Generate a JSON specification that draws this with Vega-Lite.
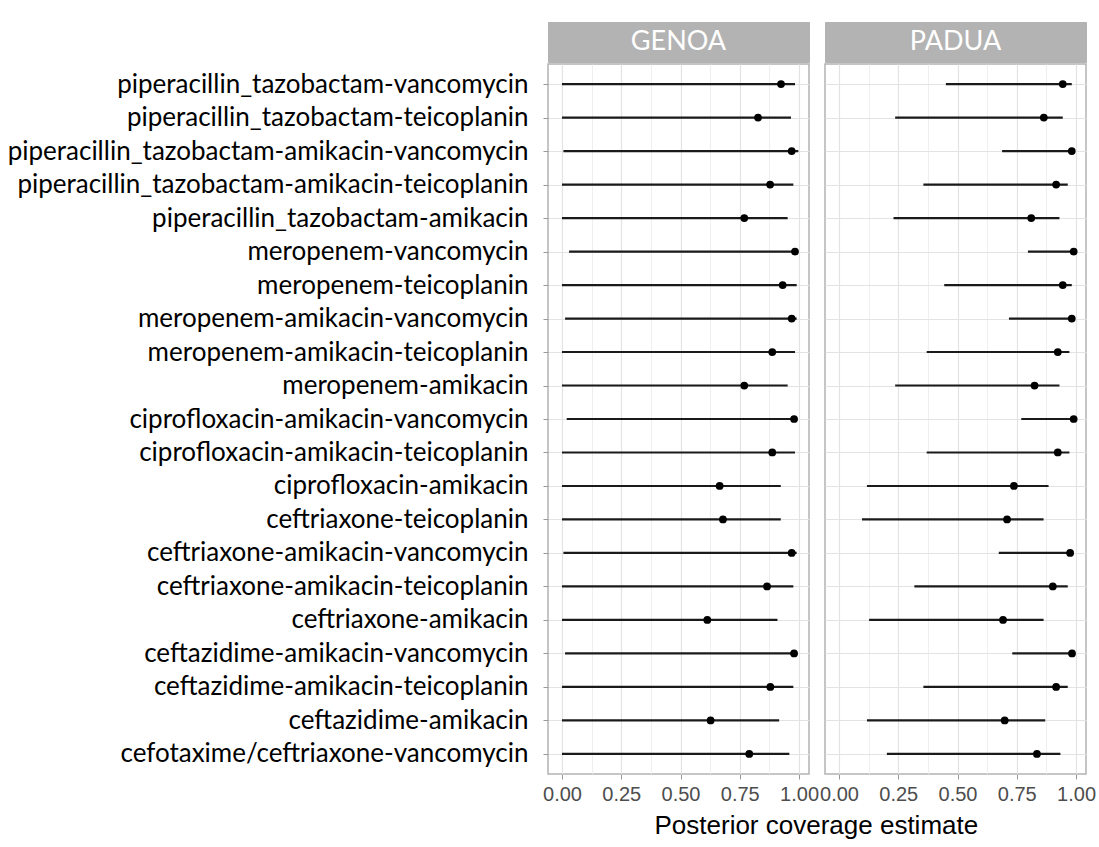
{
  "$schema": "https://vega.github.io/schema/vega-lite/v6.json",
  "background": "white",
  "padding": {"left": 6, "top": 21, "right": 5, "bottom": 5},
  "title": {"text": "Posterior coverage estimate", "orient": "bottom", "anchor": "middle", "font": "Liberation Sans", "fontSize": 26, "fontWeight": "normal", "color": "black", "dx": 265, "offset": 8},
  "datasets": {
    "cov": [
      {"site": "GENOA", "combo": "piperacillin_tazobactam-vancomycin", "lo": 0.0, "est": 0.924, "hi": 0.983},
      {"site": "GENOA", "combo": "piperacillin_tazobactam-teicoplanin", "lo": 0.0, "est": 0.827, "hi": 0.966},
      {"site": "GENOA", "combo": "piperacillin_tazobactam-amikacin-vancomycin", "lo": 0.006, "est": 0.969, "hi": 0.997},
      {"site": "GENOA", "combo": "piperacillin_tazobactam-amikacin-teicoplanin", "lo": 0.0, "est": 0.878, "hi": 0.976},
      {"site": "GENOA", "combo": "piperacillin_tazobactam-amikacin", "lo": 0.0, "est": 0.769, "hi": 0.952},
      {"site": "GENOA", "combo": "meropenem-vancomycin", "lo": 0.03, "est": 0.983, "hi": 0.995},
      {"site": "GENOA", "combo": "meropenem-teicoplanin", "lo": 0.0, "est": 0.931, "hi": 0.99},
      {"site": "GENOA", "combo": "meropenem-amikacin-vancomycin", "lo": 0.013, "est": 0.969, "hi": 0.99},
      {"site": "GENOA", "combo": "meropenem-amikacin-teicoplanin", "lo": 0.0, "est": 0.887, "hi": 0.983},
      {"site": "GENOA", "combo": "meropenem-amikacin", "lo": 0.0, "est": 0.769, "hi": 0.952},
      {"site": "GENOA", "combo": "ciprofloxacin-amikacin-vancomycin", "lo": 0.02, "est": 0.979, "hi": 0.99},
      {"site": "GENOA", "combo": "ciprofloxacin-amikacin-teicoplanin", "lo": 0.0, "est": 0.887, "hi": 0.983},
      {"site": "GENOA", "combo": "ciprofloxacin-amikacin", "lo": 0.0, "est": 0.665, "hi": 0.923},
      {"site": "GENOA", "combo": "ceftriaxone-teicoplanin", "lo": 0.0, "est": 0.679, "hi": 0.923},
      {"site": "GENOA", "combo": "ceftriaxone-amikacin-vancomycin", "lo": 0.006, "est": 0.969, "hi": 0.99},
      {"site": "GENOA", "combo": "ceftriaxone-amikacin-teicoplanin", "lo": 0.0, "est": 0.865, "hi": 0.976},
      {"site": "GENOA", "combo": "ceftriaxone-amikacin", "lo": 0.0, "est": 0.613, "hi": 0.909},
      {"site": "GENOA", "combo": "ceftazidime-amikacin-vancomycin", "lo": 0.013, "est": 0.979, "hi": 0.99},
      {"site": "GENOA", "combo": "ceftazidime-amikacin-teicoplanin", "lo": 0.0, "est": 0.879, "hi": 0.976},
      {"site": "GENOA", "combo": "ceftazidime-amikacin", "lo": 0.0, "est": 0.627, "hi": 0.916},
      {"site": "GENOA", "combo": "cefotaxime/ceftriaxone-vancomycin", "lo": 0.0, "est": 0.79, "hi": 0.959},
      {"site": "PADUA", "combo": "piperacillin_tazobactam-vancomycin", "lo": 0.451, "est": 0.944, "hi": 0.982},
      {"site": "PADUA", "combo": "piperacillin_tazobactam-teicoplanin", "lo": 0.237, "est": 0.864, "hi": 0.944},
      {"site": "PADUA", "combo": "piperacillin_tazobactam-amikacin-vancomycin", "lo": 0.688, "est": 0.982, "hi": 0.99},
      {"site": "PADUA", "combo": "piperacillin_tazobactam-amikacin-teicoplanin", "lo": 0.356, "est": 0.916, "hi": 0.965},
      {"site": "PADUA", "combo": "piperacillin_tazobactam-amikacin", "lo": 0.23, "est": 0.811, "hi": 0.93},
      {"site": "PADUA", "combo": "meropenem-vancomycin", "lo": 0.797, "est": 0.99, "hi": 0.995},
      {"site": "PADUA", "combo": "meropenem-teicoplanin", "lo": 0.444, "est": 0.944, "hi": 0.982},
      {"site": "PADUA", "combo": "meropenem-amikacin-vancomycin", "lo": 0.717, "est": 0.982, "hi": 0.99},
      {"site": "PADUA", "combo": "meropenem-amikacin-teicoplanin", "lo": 0.37, "est": 0.923, "hi": 0.972},
      {"site": "PADUA", "combo": "meropenem-amikacin", "lo": 0.237, "est": 0.825, "hi": 0.93},
      {"site": "PADUA", "combo": "ciprofloxacin-amikacin-vancomycin", "lo": 0.769, "est": 0.99, "hi": 0.995},
      {"site": "PADUA", "combo": "ciprofloxacin-amikacin-teicoplanin", "lo": 0.37, "est": 0.923, "hi": 0.972},
      {"site": "PADUA", "combo": "ciprofloxacin-amikacin", "lo": 0.118, "est": 0.738, "hi": 0.884},
      {"site": "PADUA", "combo": "ceftriaxone-teicoplanin", "lo": 0.097, "est": 0.709, "hi": 0.863},
      {"site": "PADUA", "combo": "ceftriaxone-amikacin-vancomycin", "lo": 0.674, "est": 0.975, "hi": 0.985},
      {"site": "PADUA", "combo": "ceftriaxone-amikacin-teicoplanin", "lo": 0.318, "est": 0.902, "hi": 0.965},
      {"site": "PADUA", "combo": "ceftriaxone-amikacin", "lo": 0.127, "est": 0.692, "hi": 0.863},
      {"site": "PADUA", "combo": "ceftazidime-amikacin-vancomycin", "lo": 0.731, "est": 0.983, "hi": 0.99},
      {"site": "PADUA", "combo": "ceftazidime-amikacin-teicoplanin", "lo": 0.356, "est": 0.916, "hi": 0.965},
      {"site": "PADUA", "combo": "ceftazidime-amikacin", "lo": 0.118, "est": 0.699, "hi": 0.87},
      {"site": "PADUA", "combo": "cefotaxime/ceftriaxone-vancomycin", "lo": 0.202, "est": 0.835, "hi": 0.934}
    ],
    "sites": [{"site": "GENOA"}, {"site": "PADUA"}]
  },
  "config": {
    "view": {"stroke": "#B3B3B3", "strokeWidth": 1.5},
    "axis": {"labelFont": "Liberation Sans", "titleFont": "Liberation Sans", "domain": false}
  },
  "spacing": -2,
  "hconcat": [
    {
      "spacing": 0,
      "vconcat": [
        {
          "width": 261, "height": 40,
          "view": {"fill": "#B3B3B3", "stroke": "#B3B3B3"},
          "data": {"name": "sites"},
          "transform": [{"filter": "datum.site === 'GENOA'"}],
          "mark": {"type": "text", "color": "white", "font": "Lato", "fontSize": 27},
          "encoding": {"text": {"field": "site"}}
        },
        {
          "width": 261, "height": 710,
          "data": {"name": "cov"},
          "transform": [{"filter": "datum.site === 'GENOA'"}],
          "resolve": {"axis": {"x": "independent"}},
          "layer": [
            {
              "mark": {"type": "rule", "color": "#1a1a1a", "strokeWidth": 2.2},
              "encoding": {
                "y": {"field": "combo", "type": "nominal", "sort": null,
                  "scale": {"type": "point", "padding": 0.6},
                  "axis": {"title": null, "labelFont": "Lato", "labelFontSize": 26, "labelColor": "black",
                    "labelPadding": 15, "labelLimit": 700, "tickColor": "#999999", "tickSize": 5,
                    "grid": true, "gridColor": "#E3E3E3", "gridWidth": 1.2}},
                "x": {"field": "lo", "type": "quantitative",
                  "scale": {"domain": [-0.059, 1.042], "nice": false, "zero": false},
                  "axis": {"orient": "bottom", "values": [0.125, 0.375, 0.625, 0.875], "grid": true, "gridColor": "#EBEBEB", "gridWidth": 0.8,
                    "labels": false, "ticks": false, "title": null}},
                "x2": {"field": "hi"}
              }
            },
            {
              "mark": {"type": "point", "filled": true, "color": "black", "size": 60, "opacity": 1},
              "encoding": {
                "y": {"field": "combo", "type": "nominal", "sort": null},
                "x": {"field": "est", "type": "quantitative",
                  "axis": {"orient": "bottom", "values": [0, 0.25, 0.5, 0.75, 1], "format": ".2f", "grid": true, "gridColor": "#E3E3E3", "gridWidth": 1.2,
                    "labelFontSize": 20, "labelColor": "#4D4D4D", "tickColor": "#999999", "tickSize": 5, "labelPadding": 5,
                    "title": null}}
              }
            }
          ]
        }
      ]
    },
    {
      "spacing": 0,
      "vconcat": [
        {
          "width": 261, "height": 40,
          "view": {"fill": "#B3B3B3", "stroke": "#B3B3B3"},
          "data": {"name": "sites"},
          "transform": [{"filter": "datum.site === 'PADUA'"}],
          "mark": {"type": "text", "color": "white", "font": "Lato", "fontSize": 27},
          "encoding": {"text": {"field": "site"}}
        },
        {
          "width": 261, "height": 710,
          "data": {"name": "cov"},
          "transform": [{"filter": "datum.site === 'PADUA'"}],
          "resolve": {"axis": {"x": "independent"}},
          "layer": [
            {
              "mark": {"type": "rule", "color": "#1a1a1a", "strokeWidth": 2.2},
              "encoding": {
                "y": {"field": "combo", "type": "nominal", "sort": null,
                  "scale": {"type": "point", "padding": 0.6},
                  "axis": {"title": null, "labels": false, "ticks": false,
                    "grid": true, "gridColor": "#E3E3E3", "gridWidth": 1.2}},
                "x": {"field": "lo", "type": "quantitative",
                  "scale": {"domain": [-0.059, 1.042], "nice": false, "zero": false},
                  "axis": {"orient": "bottom", "values": [0.125, 0.375, 0.625, 0.875], "grid": true, "gridColor": "#EBEBEB", "gridWidth": 0.8,
                    "labels": false, "ticks": false, "title": null}},
                "x2": {"field": "hi"}
              }
            },
            {
              "mark": {"type": "point", "filled": true, "color": "black", "size": 60, "opacity": 1},
              "encoding": {
                "y": {"field": "combo", "type": "nominal", "sort": null},
                "x": {"field": "est", "type": "quantitative",
                  "axis": {"orient": "bottom", "values": [0, 0.25, 0.5, 0.75, 1], "format": ".2f", "grid": true, "gridColor": "#E3E3E3", "gridWidth": 1.2,
                    "labelFontSize": 20, "labelColor": "#4D4D4D", "tickColor": "#999999", "tickSize": 5, "labelPadding": 5,
                    "title": null}}
              }
            }
          ]
        }
      ]
    }
  ]
}
